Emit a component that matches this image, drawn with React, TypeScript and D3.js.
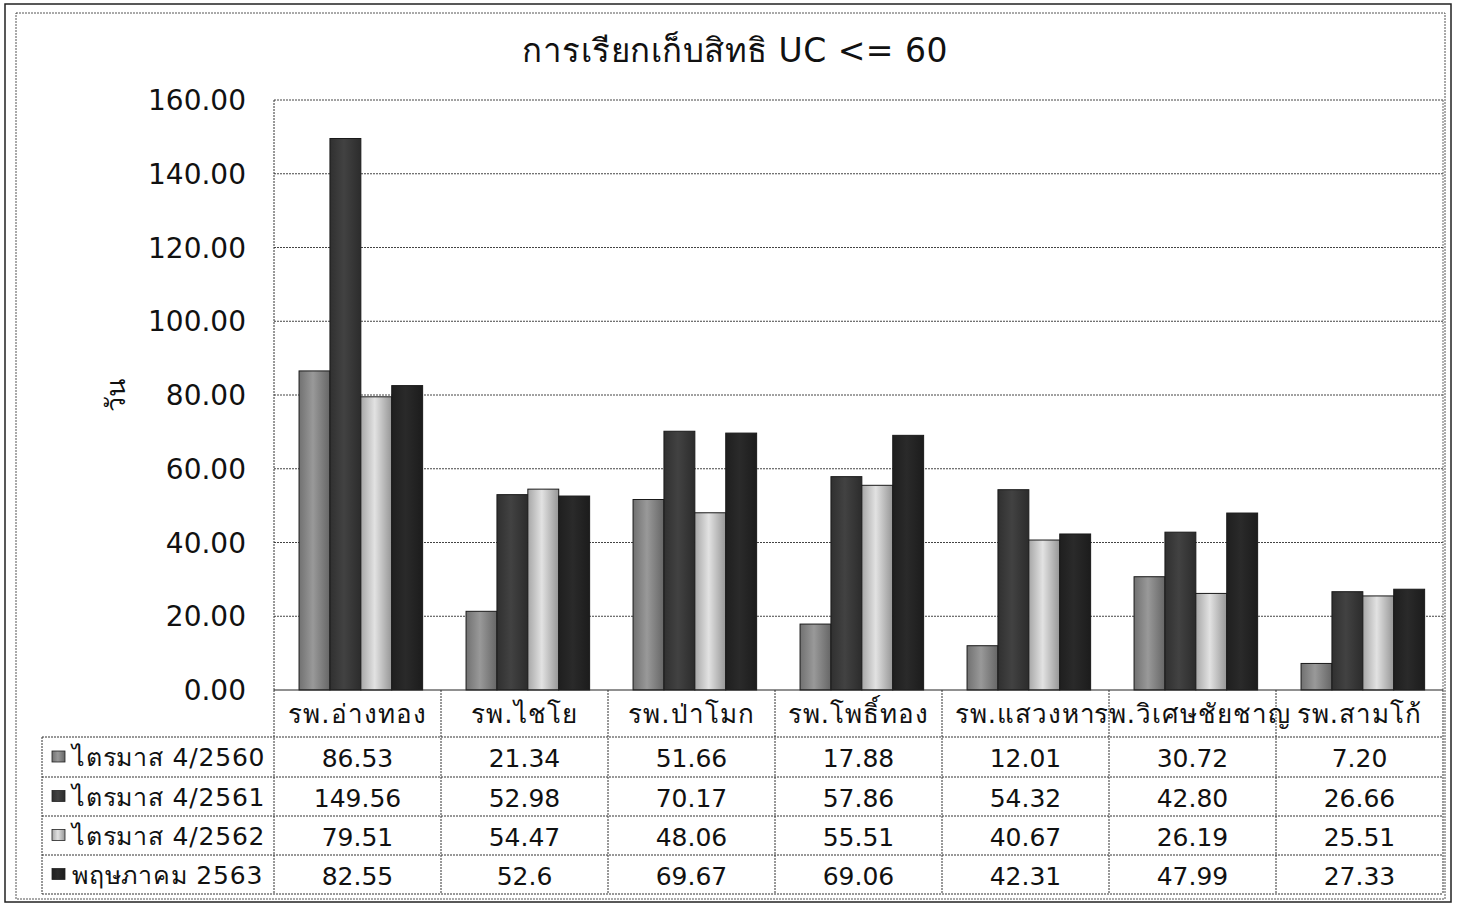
import * as d3 from "d3";

const categories = [
  "รพ.อ่างทอง",
  "รพ.ไชโย",
  "รพ.ป่าโมก",
  "รพ.โพธิ์ทอง",
  "รพ.แสวงหา",
  "รพ.วิเศษชัยชาญ",
  "รพ.สามโก้",
];

const seriesNames = ["ไตรมาส 4/2560", "ไตรมาส 4/2561", "ไตรมาส 4/2562", "พฤษภาคม 2563"];

const q4_2560 = [86.53, 21.34, 51.66, 17.88, 12.01, 30.72, 7.2];
const q4_2561 = [149.56, 52.98, 70.17, 57.86, 54.32, 42.8, 26.66];
const q4_2562 = [79.51, 54.47, 48.06, 55.51, 40.67, 26.19, 25.51];
const may_2563 = [82.55, 52.6, 69.67, 69.06, 42.31, 47.99, 27.33];

// the table prints some values as typed in the sheet
const tableLabels = [
  ["86.53", "21.34", "51.66", "17.88", "12.01", "30.72", "7.20"],
  ["149.56", "52.98", "70.17", "57.86", "54.32", "42.80", "26.66"],
  ["79.51", "54.47", "48.06", "55.51", "40.67", "26.19", "25.51"],
  ["82.55", "52.6", "69.67", "69.06", "42.31", "47.99", "27.33"],
];

const yTicks = [0, 20, 40, 60, 80, 100, 120, 140, 160];

const fills = ["#8c8c8c", "#3c3c3c", "#cfcfcf", "#262626"];
const font = "'DejaVu Sans', 'Noto Sans', sans-serif";

export default function App() {
  const values = [q4_2560, q4_2561, q4_2562, may_2563];
  const left = 274;
  const right = 1443;
  const top = 100;
  const bottom = 690;
  const rowY = [737, 777, 816, 855, 894];
  const tableLeft = 42;

  const x = d3.scaleBand<string>().domain(categories).range([left, right]);
  const bw = x.bandwidth();
  const xs = d3
    .scaleBand<number>()
    .domain(d3.range(seriesNames.length))
    .range([bw * 0.15, bw * 0.89]);
  const y = d3.scaleLinear().domain([0, 160]).range([bottom, top]);

  return (
    <div style={{ position: "absolute", left: 0, top: 0 }}>
      <svg width={1458} height={905} style={{ display: "block" }}>
        <defs>
          {fills.map((c, i) => (
            <linearGradient key={i} id={`g${i}`} x1="0" x2="1" y1="0" y2="0">
              <stop offset="0" stopColor={d3.color(c)!.darker(0.6).toString()} />
              <stop offset="0.45" stopColor={d3.color(c)!.brighter(0.25).toString()} />
              <stop offset="1" stopColor={d3.color(c)!.darker(0.9).toString()} />
            </linearGradient>
          ))}
        </defs>
        <rect x={0} y={0} width={1458} height={905} fill="#fff" />
        <rect x={5} y={4} width={1446} height={898} fill="none" stroke="#222" strokeWidth={1.5} />
        <rect x={16} y={13} width={1429} height={886} fill="none" stroke="#555" strokeWidth={1} strokeDasharray="2,1" />

        <text x={735} y={62} textAnchor="middle" fontFamily={font} fontSize={33} letterSpacing={0.5} fill="#111">
          การเรียกเก็บสิทธิ UC &lt;= 60
        </text>

        {/* grid */}
        {yTicks.map((t) => (
          <g key={t}>
            {t > 0 && (
              <line
                x1={left}
                x2={right}
                y1={y(t)}
                y2={y(t)}
                stroke="#444"
                strokeWidth={1}
                strokeDasharray="2,1"
              />
            )}
            <text
              x={246}
              y={y(t)}
              dy="0.36em"
              textAnchor="end"
              fontFamily={font}
              fontSize={28}
              fill="#111"
            >
              {t.toFixed(2)}
            </text>
          </g>
        ))}
        <line x1={left} x2={left} y1={top} y2={bottom} stroke="#333" strokeDasharray="2,1" />
        <line x1={right} x2={right} y1={top} y2={bottom} stroke="#666" strokeDasharray="2,1" />

        <text
          transform={`translate(116,${y(80)}) rotate(-90)`}
          textAnchor="middle"
          dy="0.35em"
          fontFamily={font}
          fontSize={27}
          fill="#111"
        >
          วัน
        </text>

        {/* bars */}
        {values.map((vals, si) =>
          vals.map((v, ci) => {
            const bx = x(categories[ci])! + xs(si)!;
            return (
              <rect
                key={`${si}-${ci}`}
                x={bx}
                y={y(v)}
                width={xs.bandwidth()}
                height={y(0) - y(v)}
                fill={`url(#g${si})`}
                stroke="#1a1a1a"
                strokeWidth={1}
              />
            );
          })
        )}

        {/* data table */}
        <line x1={left} x2={right} y1={bottom} y2={bottom} stroke="#222" strokeWidth={1.2} />
        {rowY.map((ry) => (
          <line key={ry} x1={tableLeft} x2={right} y1={ry} y2={ry} stroke="#333" strokeDasharray="2,1" />
        ))}
        <line x1={tableLeft} x2={tableLeft} y1={rowY[0]} y2={rowY[4]} stroke="#333" strokeDasharray="2,1" />
        {categories.map((c) => (
          <line
            key={c}
            x1={x(c)!}
            x2={x(c)!}
            y1={bottom}
            y2={rowY[4]}
            stroke="#333"
            strokeDasharray="2,1"
          />
        ))}
        <line x1={right} x2={right} y1={bottom} y2={rowY[4]} stroke="#333" strokeDasharray="2,1" />

        {categories.map((c) => (
          <text
            key={c}
            x={x(c)! + bw / 2}
            y={(bottom + rowY[0]) / 2}
            dy="0.36em"
            textAnchor="middle"
            fontFamily={font}
            fontSize={26}
            letterSpacing={1}
            fill="#111"
          >
            {c}
          </text>
        ))}

        {seriesNames.map((s, si) => {
          const cy = (rowY[si] + rowY[si + 1]) / 2;
          return (
            <g key={s}>
              <rect x={52} y={cy - 6} width={13} height={11} fill={`url(#g${si})`} stroke="#222" strokeWidth={0.8} />
              <text x={72} y={cy} dy="0.36em" fontFamily={font} fontSize={25} letterSpacing={0.8} fill="#111">
                {s}
              </text>
              {categories.map((c, ci) => (
                <text
                  key={c}
                  x={x(c)! + bw / 2}
                  y={cy}
                  dy="0.4em"
                  textAnchor="middle"
                  fontFamily={font}
                  fontSize={25}
                  fill="#111"
                >
                  {tableLabels[si][ci]}
                </text>
              ))}
            </g>
          );
        })}
      </svg>
    </div>
  );
}
